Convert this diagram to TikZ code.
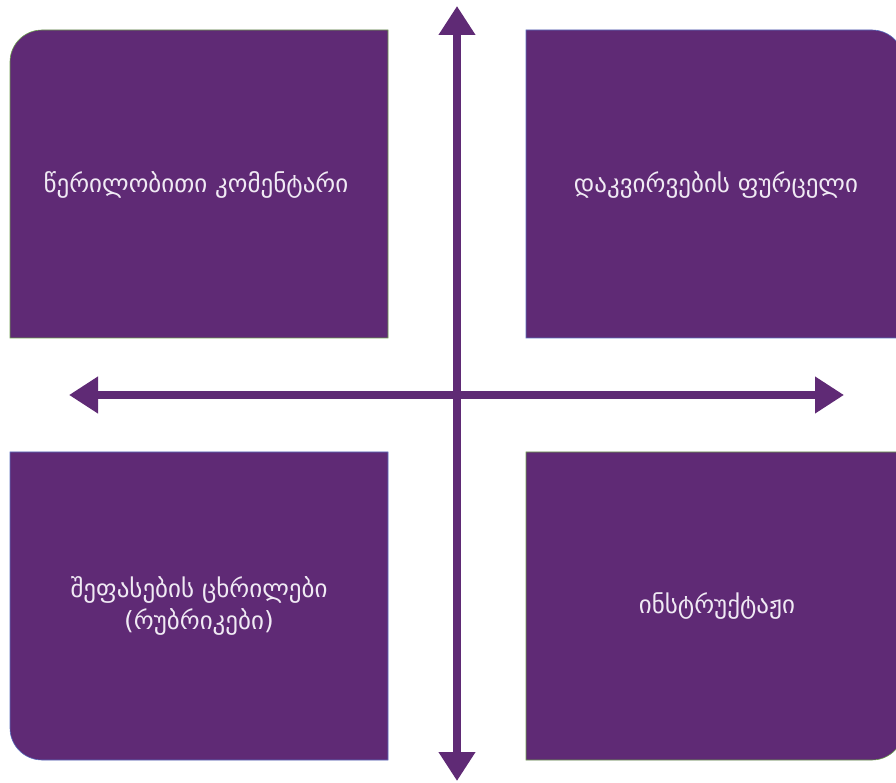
\documentclass[tikz,border=0pt]{standalone}
\usepackage{fontspec}
\newfontfamily\geofont{DejaVu Sans}
\usetikzlibrary{arrows.meta}
\definecolor{boxpurple}{RGB}{95,42,117}
\definecolor{txtcol}{RGB}{240,234,244}
\definecolor{edgegreen}{RGB}{110,160,80}
\definecolor{edgeblue}{RGB}{90,110,190}
\tikzset{
  boxfill/.style={fill=boxpurple, line width=0.6pt},
  lbl/.style={text=txtcol, font=\geofont\fontsize{25}{32}\selectfont, align=center},
  axis/.style={draw=boxpurple, line width=8.5pt, arrows={Triangle[width=35pt,length=29pt]-Triangle[width=35pt,length=29pt]}}
}
\begin{document}
\begin{tikzpicture}[x=1pt,y=1pt]
\useasboundingbox (0,0) rectangle (896,782);
\clip (0,0) rectangle (896,782);
% top-left box (rounded top-left corner)
\path[boxfill, draw=edgegreen] (10,444) -- (10,720) arc (180:90:32) -- (388,752) -- (388,444) -- cycle;
% top-right box (rounded top-right corner)
\path[boxfill, draw=edgeblue] (526,444) -- (526,752) -- (872,752) arc (90:0:32) -- (904,444) -- cycle;
% bottom-left box (rounded bottom-left corner)
\path[boxfill, draw=edgeblue] (388,330) -- (10,330) -- (10,54) arc (180:270:32) -- (388,22) -- cycle;
% bottom-right box (rounded bottom-right corner)
\path[boxfill, draw=edgegreen] (526,330) -- (526,22) -- (872,22) arc (-90:0:32) -- (904,330) -- cycle;
% labels
\node[lbl] (tl) at (196,597) {წერილობითი კომენტარი};
\node[lbl] (tr) at (716,597) {დაკვირვების ფურცელი};
\node[lbl] (bl) at (199,176) {შეფასების ცხრილები\\(რუბრიკები)};
\node[lbl] (br) at (717,176) {ინსტრუქტაჟი};
% axes
\coordinate (top) at (457,776);
\coordinate (bottom) at (457,1);
\coordinate (left) at (69,387);
\coordinate (right) at (844,387);
\draw[axis] (bottom) -- (top);
\draw[axis] (left) -- (right);
\end{tikzpicture}
\end{document}
